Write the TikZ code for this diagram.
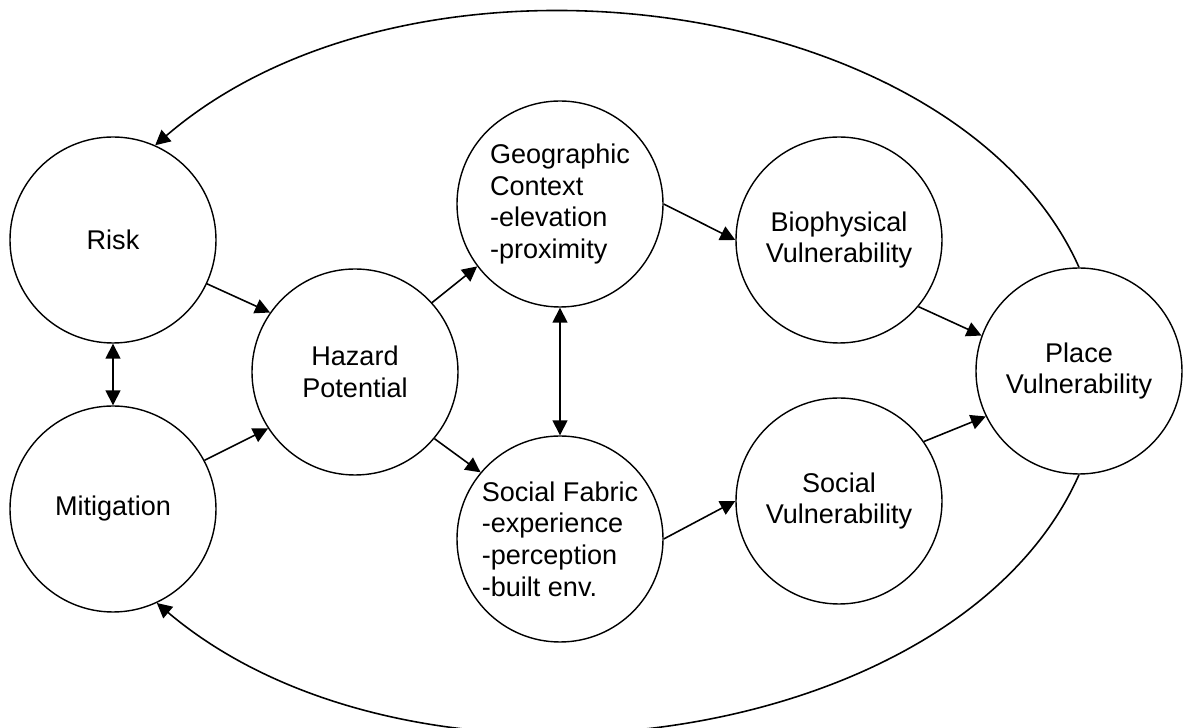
\documentclass[tikz,border=0pt]{standalone}
\usepackage{fontspec}
\setmainfont{Liberation Sans}
\usetikzlibrary{arrows.meta, positioning}

\begin{document}
\begin{tikzpicture}[
    node distance=2cm, on grid,
    >={Triangle[length=8.5pt, width=8.5pt]},
    font=\fontsize{15.4}{18}\selectfont,
    factor/.style={circle, draw, line width=0.8pt, minimum size=4.12cm, inner sep=0pt, align=center},
    listfactor/.style={factor, align=left},
    arrow/.style={->, line width=0.9pt},
    twoway/.style={<->, line width=0.9pt}
  ]
    \useasboundingbox (-2.26,4.8) rectangle (21.4,-9.76);
    \node[factor] (risk) {Risk};
    \node[factor, below=5.38cm of risk] (mitig) {Mitigation};
    \node[factor, below right=2.64cm and 4.84cm of risk] (hazard)
    {Hazard\\Potential};
    \node[listfactor, above right=3.36cm and 4.1cm of hazard] (geo)
    {Geographic\\Context\\-elevation\\-proximity};
    \node[listfactor, below right=3.34cm and 4.1cm of hazard] (fabric)
    {Social Fabric\\-experience\\-perception\\-built env.};
    \node[factor, below right=0.72cm and 5.58cm of geo] (biovul)
    {Biophysical\\Vulnerability};
    \node[factor, above right=0.76cm and 5.58cm of fabric] (socvul)
    {Social\\Vulnerability};
    \node[factor, below right=2.62cm and 4.8cm of biovul] (place)
    {Place\\Vulnerability};
    \draw[twoway] (risk) -- (mitig);
    \draw[twoway] (geo) -- (fabric);
    \draw[arrow] (risk.-25) -- (hazard.145);
    \draw[arrow] (mitig.28) -- (hazard.213);
    \draw[arrow] (hazard.42) -- (geo.217);
    \draw[arrow] (hazard.-40) -- (fabric.140);
    \draw[arrow] (geo.east) -- (biovul.west);
    \draw[arrow] (fabric.east) -- (socvul.west);
    \draw[arrow] (biovul.-40) -- (place.160);
    \draw[arrow] (socvul.35) -- (place.206);
    \draw[arrow] (place.north) .. controls +(-2.43,5.45) and +(5.23,4.5) .. (risk.66);
    \draw[arrow] (place.south) .. controls +(-2.43,-5.5) and +(5.2,-4.4) .. (mitig.-65);
  \end{tikzpicture}
\end{document}
